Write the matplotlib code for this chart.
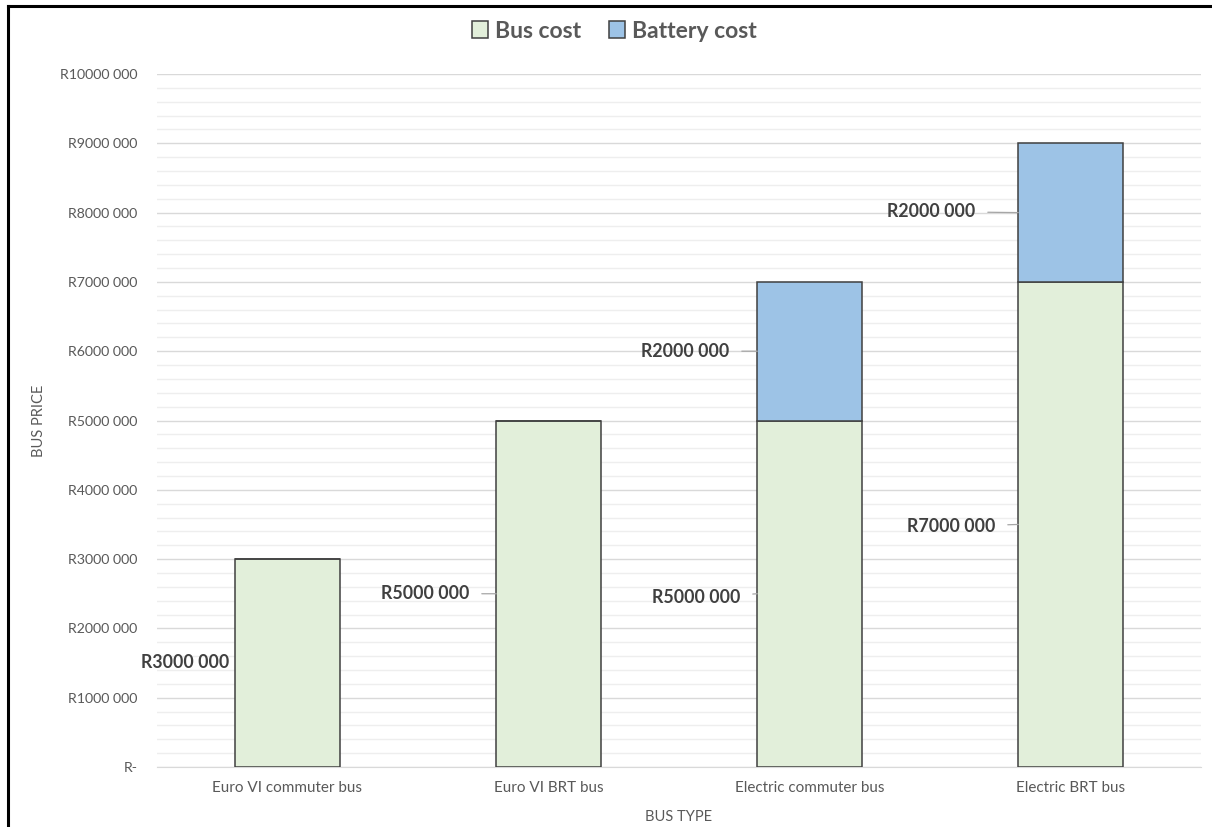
import matplotlib
matplotlib.use("Agg")
import matplotlib.pyplot as plt
from matplotlib.lines import Line2D
from matplotlib.ticker import MultipleLocator, FuncFormatter

plt.rcParams["font.family"] = ["Lato", "DejaVu Sans"]

# Data
categories = ["Euro VI commuter bus", "Euro VI BRT bus", "Electric commuter bus", "Electric BRT bus"]
bus_cost = [3000000, 5000000, 5000000, 7000000]
battery_cost = [0, 0, 2000000, 2000000]

# Label placement (pixels left of bar edge, vertical nudge)
bus_label_gap = [6, 27, 17, 23]
bus_label_dy = [1, 0, -4, -2]
battery_label_gap = [0, 0, 28, 43]
battery_label_dy = [0, 0, 0, 1]

GREEN = "#e2efda"
BLUE = "#9dc3e6"
EDGE = "#404040"
TEXT = "#595959"

fig = plt.figure(figsize=(12.12, 8.27), dpi=100)
ax = fig.add_axes([157 / 1212, 1 - 767 / 827, (1201 - 157) / 1212, (767 - 74) / 827])

x = list(range(len(categories)))
width = 0.40
b1 = ax.bar(x, bus_cost, width, color=GREEN, edgecolor=EDGE, linewidth=1.1, label="Bus cost", zorder=3)
b2 = ax.bar(x, battery_cost, width, bottom=bus_cost, color=BLUE, edgecolor=EDGE, linewidth=1.1,
            label="Battery cost", zorder=3)

ax.set_xlim(-0.5, len(categories) - 0.5)
ax.set_ylim(0, 10000000)
ax.yaxis.set_major_locator(MultipleLocator(1000000))
ax.yaxis.set_minor_locator(MultipleLocator(200000))


def rand_fmt(v, pos):
    if v == 0:
        return "R-"
    m = int(round(v))
    return "R{} {:03d}".format(m // 1000, m % 1000)


ax.yaxis.set_major_formatter(FuncFormatter(rand_fmt))
ax.grid(which="major", axis="y", color="#d9d9d9", linewidth=1.0, zorder=0)
ax.grid(which="minor", axis="y", color="#eeeeee", linewidth=1.0, zorder=0)
ax.set_axisbelow(True)
for s in ["top", "right", "left"]:
    ax.spines[s].set_visible(False)
ax.spines["bottom"].set_color("#d9d9d9")
ax.tick_params(axis="both", which="both", length=0)
ax.tick_params(axis="y", labelsize=10.2, labelcolor=TEXT, pad=14)
ax.tick_params(axis="x", labelsize=11, labelcolor=TEXT, pad=10)
ax.set_xticks(x)
ax.set_xticklabels(categories)

ax.set_ylabel("BUS PRICE", fontsize=10.5, color=TEXT, labelpad=10)
ax.set_xlabel("BUS TYPE", fontsize=10.5, color=TEXT, labelpad=11)

# Data labels with leader lines
def label_segment(xi, bottom, value, gap, dy):
    if value <= 0:
        return
    left = xi - width / 2
    mid = bottom + value / 2
    txt = "R{} {:03d}".format(value // 1000, value % 1000)
    arrow = None
    if gap > 12:
        arrow = dict(arrowstyle="-", color="#a6a6a6", lw=0.9, shrinkA=7, shrinkB=0)
    ax.annotate(txt, xy=(left, mid), xycoords="data",
                xytext=(-gap, dy), textcoords="offset pixels",
                ha="right", va="center", fontsize=12.8, fontweight="bold", color="#404040",
                arrowprops=arrow, zorder=4)


for i in x:
    label_segment(i, 0, bus_cost[i], bus_label_gap[i], bus_label_dy[i])
    label_segment(i, bus_cost[i], battery_cost[i], battery_label_gap[i], battery_label_dy[i])

leg = fig.legend(handles=[b1, b2], loc="center", bbox_to_anchor=(0.507, 1 - 31 / 827), ncol=2,
                 frameon=False, fontsize=16.5, handlelength=0.7, handleheight=0.7,
                 handletextpad=0.3, columnspacing=1.2)
for t in leg.get_texts():
    t.set_color(TEXT)
    t.set_fontweight("bold")

# Outer frame lines
fig.add_artist(Line2D([8 / 1212, 8 / 1212], [0, 1 - 6 / 827], transform=fig.transFigure,
                      color="black", linewidth=2.2))
fig.add_artist(Line2D([8 / 1212, 1], [1 - 6 / 827, 1 - 6 / 827], transform=fig.transFigure,
                      color="black", linewidth=2.2))

fig.savefig("out.png", dpi=100)
